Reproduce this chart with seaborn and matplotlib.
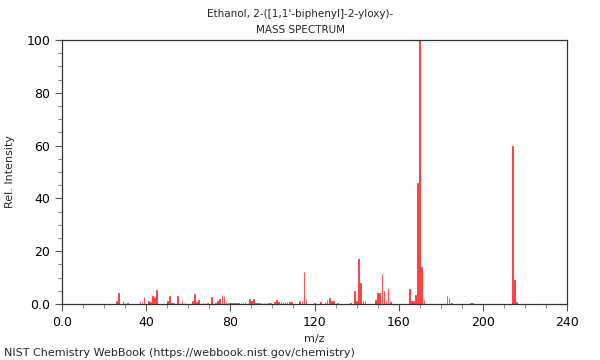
import matplotlib
matplotlib.use("Agg")
import matplotlib.pyplot as plt
from matplotlib.ticker import MultipleLocator, FixedLocator
import seaborn as sns
import pandas as pd

title_line1 = "Ethanol, 2-([1,1'-biphenyl]-2-yloxy)-"
title_line2 = "MASS SPECTRUM"
x_label = "m/z"
y_label = "Rel. Intensity"
footer = "NIST Chemistry WebBook (https://webbook.nist.gov/chemistry)"

mz = [26, 27, 29, 30, 31, 37, 38, 39, 41, 42, 43, 44, 45,
      50, 51, 52, 53, 55, 56, 57, 58,
      62, 63, 64, 65, 67, 68, 69, 71, 73, 74, 75, 76, 77, 78,
      79, 80, 81, 82, 83, 84, 85, 86, 87, 89, 90, 91, 92, 93, 94, 95, 96, 97, 98, 99,
      101, 102, 103, 104, 105, 106, 107, 108, 109, 113, 114, 115, 116,
      120, 123, 125, 126, 127, 128, 129, 131, 137, 139, 140, 141, 142, 143, 144,
      149, 150, 151, 152, 153, 154, 155, 156,
      165, 166, 167, 168, 169, 170, 171, 172,
      183, 184, 185, 194, 195, 214, 215, 216]
intensity = [1.1, 4.2, 1.3, 0.5, 0.5, 1.0, 0.6, 2.5, 1.0, 0.8, 3.0, 2.8, 5.3,
             1.3, 2.9, 0.5, 0.5, 3.2, 0.5, 1.1, 0.4,
             1.0, 3.8, 0.8, 1.5, 0.5, 0.5, 0.5, 2.5, 0.5, 1.2, 2.0, 3.4, 3.0, 0.7,
             0.4, 0.4, 0.4, 0.4, 0.4, 0.4, 0.4, 0.4, 0.8, 2.0, 1.0, 2.0, 0.4, 0.4, 0.4, 0.4, 0.4, 0.4, 0.4, 0.4,
             0.6, 1.5, 0.6, 0.9, 0.6, 0.9, 0.9, 0.6, 0.6, 1.0, 1.0, 12.3, 1.5,
             0.3, 0.6, 0.6, 1.6, 2.2, 1.2, 1.0, 0.5, 0.5, 5.0, 1.0, 17.0, 8.0, 1.0, 1.0,
             1.5, 4.0, 4.0, 11.5, 5.0, 1.5, 6.0, 0.8,
             5.5, 1.0, 1.0, 3.5, 46.0, 100.0, 14.0, 1.5,
             3.2, 2.1, 0.4, 0.5, 0.5, 60.0, 9.2, 0.8]

x_ticks = [0, 40, 80, 120, 160, 200, 240]
x_tick_labels = ["0.0", "40", "80", "120", "160", "200", "240"]
y_ticks = [0, 20, 40, 60, 80, 100]
y_tick_labels = ["0.0", "20", "40", "60", "80", "100"]

df = pd.DataFrame({"mz": mz, "intensity": intensity})

sns.set_theme(style="ticks")
plt.rcParams["font.family"] = ["DejaVu Sans"]

fig = plt.figure(figsize=(6, 3.6), dpi=100)
ax = fig.add_axes([62 / 600, 1 - 304 / 360, 505 / 600, 264 / 360])

sns.barplot(data=df, x="mz", y="intensity", native_scale=True, color="#ff3333",
            saturation=1, width=0.3, linewidth=0.6, edgecolor="#ff3333",
            errorbar=None, ax=ax)

ax.set_xlim(0, 240)
ax.set_ylim(0, 100)
ax.xaxis.set_major_locator(FixedLocator(x_ticks))
ax.set_xticklabels(x_tick_labels)
ax.xaxis.set_minor_locator(MultipleLocator(10))
ax.yaxis.set_major_locator(FixedLocator(y_ticks))
ax.set_yticklabels(y_tick_labels)
ax.yaxis.set_minor_locator(MultipleLocator(5))

for s in ax.spines.values():
    s.set_visible(True)
    s.set_color("#333333")
    s.set_linewidth(0.9)
ax.tick_params(which="major", length=5, width=0.8, color="#555555", labelsize=9,
               labelcolor="black", direction="out")
ax.tick_params(which="minor", length=3, width=0.7, color="#888888", direction="out")

ax.set_xlabel(x_label, fontsize=8, labelpad=4)
ax.set_ylabel(y_label, fontsize=8, labelpad=8)

fig.text(0.5, 1 - 14 / 360, title_line1, ha="center", va="center", fontsize=7.5)
fig.text(0.5, 1 - 30 / 360, title_line2, ha="center", va="center", fontsize=7.5)
fig.text(4 / 600, 1 - 353 / 360, footer, ha="left", va="center", fontsize=8)

fig.savefig("out.png", dpi=100)
